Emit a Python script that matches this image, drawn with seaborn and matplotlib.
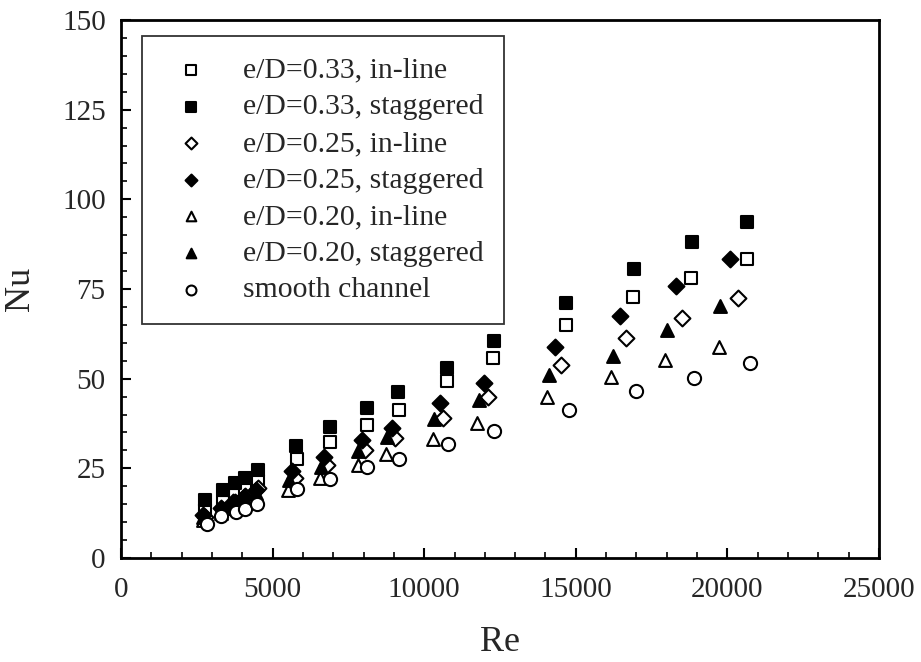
import matplotlib
matplotlib.use("Agg")
import matplotlib.pyplot as plt
import seaborn as sns
import pandas as pd
from matplotlib.ticker import MultipleLocator

sns.set_style("ticks")
plt.rcParams['font.family'] = ['Liberation Serif', 'DejaVu Serif']
plt.rcParams['mathtext.fontset'] = 'stix'

labels = ["e/D=0.33, in-line", "e/D=0.33, staggered", "e/D=0.25, in-line",
          "e/D=0.25, staggered", "e/D=0.20, in-line", "e/D=0.20, staggered",
          "smooth channel"]

re_33_inline = [2770, 3360, 3760, 4090, 4520, 5790, 6900, 8120, 9170, 10740, 12280, 14670, 16900, 18800, 20630]
nu_33_inline = [13.5, 15.5, 17.5, 19.5, 21.5, 27.7, 32.3, 37.0, 41.3, 49.3, 55.7, 65.0, 72.7, 78.2, 83.5]
re_33_stag = [2770, 3360, 3760, 4090, 4520, 5770, 6880, 8100, 9150, 10760, 12300, 14690, 16920, 18840, 20650]
nu_33_stag = [16.2, 19.0, 20.9, 22.3, 24.5, 31.2, 36.4, 41.9, 46.3, 53.1, 60.6, 71.1, 80.5, 88.1, 93.7]
re_25_inline = [2770, 3360, 3760, 4090, 4520, 5730, 6800, 8040, 9050, 10630, 12100, 14510, 16650, 18490, 20340]
nu_25_inline = [11.5, 13.5, 15.5, 17.2, 19.5, 22.2, 25.9, 30.0, 33.5, 39.1, 44.9, 53.8, 61.2, 66.8, 72.6]
re_25_stag = [2700, 3300, 3700, 4050, 4450, 5630, 6700, 7960, 8940, 10510, 11960, 14300, 16450, 18300, 20070]
nu_25_stag = [12.0, 14.0, 15.5, 17.0, 18.9, 24.2, 28.2, 32.9, 36.2, 43.2, 48.7, 58.8, 67.4, 75.9, 83.3]
re_20_inline = [2700, 3300, 3700, 4050, 4450, 5500, 6570, 7810, 8740, 10280, 11750, 14040, 16160, 17930, 19720]
nu_20_inline = [10.5, 12.5, 14.0, 15.5, 17.0, 18.9, 22.4, 25.9, 29.1, 33.2, 37.6, 44.8, 50.4, 55.3, 58.9]
re_20_stag = [2700, 3300, 3700, 4050, 4450, 5540, 6590, 7830, 8780, 10330, 11810, 14100, 16220, 18000, 19770]
nu_20_stag = [11.5, 13.5, 15.0, 16.5, 18.0, 21.8, 25.3, 29.8, 33.7, 38.8, 44.0, 51.0, 56.3, 63.6, 70.3]
re_smooth = [2820, 3300, 3790, 4080, 4470, 5790, 6900, 8120, 9170, 10800, 12300, 14760, 16990, 18900, 20740]
nu_smooth = [9.6, 11.6, 12.7, 13.7, 15.1, 19.1, 22.1, 25.3, 27.7, 31.7, 35.3, 41.4, 46.6, 50.2, 54.3]

re_all = [re_33_inline, re_33_stag, re_25_inline, re_25_stag, re_20_inline, re_20_stag, re_smooth]
nu_all = [nu_33_inline, nu_33_stag, nu_25_inline, nu_25_stag, nu_20_inline, nu_20_stag, nu_smooth]
markers = ["s", "s", "D", "D", "^", "^", "o"]
fills = ["white", "black", "white", "black", "white", "black", "white"]
sizes = [80, 80, 65, 65, 85, 85, 90]

fig = plt.figure(figsize=(9.21, 6.62), dpi=100)
ax = fig.add_axes([0.1314, 0.1571, 0.8230, 0.8127])

for lab, xs, ys, m, fc, s in zip(labels, re_all, nu_all, markers, fills, sizes):
    df = pd.DataFrame({"Re": xs, "Nu": ys})
    sns.scatterplot(data=df, x="Re", y="Nu", marker=m, color=fc, edgecolor="black",
                    linewidth=1.5, s=s, label=lab, ax=ax, zorder=3)

ax.set_xlim(0, 25000)
ax.set_ylim(0, 150)
ax.xaxis.set_major_locator(MultipleLocator(5000))
ax.xaxis.set_minor_locator(MultipleLocator(1000))
ax.yaxis.set_major_locator(MultipleLocator(25))
ax.yaxis.set_minor_locator(MultipleLocator(5))
ax.tick_params(which="both", direction="in", top=False, right=False, labelsize=21, color="black")
ax.tick_params(axis="x", which="major", length=7, width=1.5, pad=14)
ax.tick_params(axis="y", which="major", length=7, width=1.5, pad=11)
ax.tick_params(which="minor", length=4, width=1.2)
for sp in ax.spines.values():
    sp.set_linewidth(2)
    sp.set_color("black")
    sp.set_visible(True)

ax.set_xlabel("Re", fontsize=26, labelpad=16)
ax.set_ylabel("Nu", fontsize=26, labelpad=18)

leg = ax.legend(loc="upper left", bbox_to_anchor=(0.028, 0.970), borderaxespad=0,
                fontsize=21.4, frameon=True, fancybox=False, edgecolor="black",
                labelspacing=0.33, handletextpad=0.8, borderpad=0.7, markerscale=0.75,
                handlelength=1.88)
leg.get_frame().set_linewidth(1.3)

fig.savefig("out.png", dpi=100)
